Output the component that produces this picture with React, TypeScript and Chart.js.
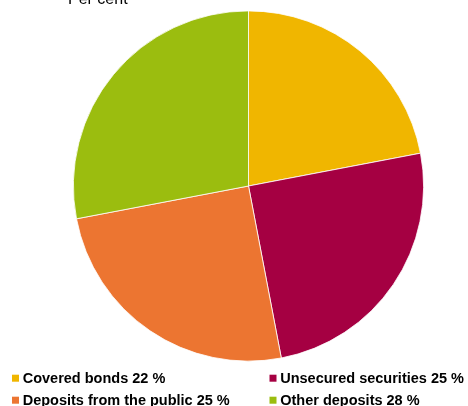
import React, { useEffect, useRef } from "react";
import { Chart, registerables } from "chart.js";

Chart.register(...registerables);

const categories = [
  "Covered bonds",
  "Unsecured securities",
  "Deposits from the public",
  "Other deposits",
];
const shares = [22, 25, 25, 28];
const colors = ["#F0B600", "#A50042", "#EC7531", "#9BBD0F"];
const unitLabel = "Per cent";

const FONT = '"Liberation Sans", Arial, sans-serif';

const overlayPlugin = {
  id: "overlay",
  afterDraw(chart: any) {
    const ctx = chart.ctx as CanvasRenderingContext2D;
    ctx.save();
    ctx.fillStyle = "#000";
    ctx.font = `16px ${FONT}`;
    ctx.textBaseline = "alphabetic";
    ctx.textAlign = "left";
    ctx.fillText(unitLabel, 68, 3.5);

    const colX = [12, 269.5];
    const rowY = [383, 405];
    ctx.font = `bold 14.5px ${FONT}`;
    categories.forEach((cat, i) => {
      const col = i % 2;
      const row = Math.floor(i / 2);
      const x = colX[col];
      const y = rowY[row];
      ctx.fillStyle = colors[i];
      ctx.fillRect(x, y - 8.3, 7, 7);
      ctx.fillStyle = "#000";
      ctx.fillText(`${cat} ${shares[i]} %`, x + 10.7, y);
    });
    ctx.restore();
  },
};

export default function App() {
  const ref = useRef<HTMLCanvasElement>(null);
  useEffect(() => {
    if (!ref.current) return;
    const chart = new Chart(ref.current, {
      type: "pie",
      data: {
        labels: categories,
        datasets: [
          {
            data: shares,
            backgroundColor: colors,
            borderColor: "#ffffff",
            borderWidth: 0.8,
          },
        ],
      },
      options: {
        responsive: false,
        animation: false,
        layout: { padding: { left: 73, right: 44, top: 10.5, bottom: 44.5 } },
        plugins: {
          legend: { display: false },
          tooltip: { enabled: false },
        },
      },
      plugins: [overlayPlugin],
    });
    return () => chart.destroy();
  }, []);
  return (
    <div style={{ position: "absolute", left: 0, top: 0, width: 468, height: 406, background: "#fff" }}>
      <canvas ref={ref} width={468} height={406} style={{ display: "block" }} />
    </div>
  );
}
